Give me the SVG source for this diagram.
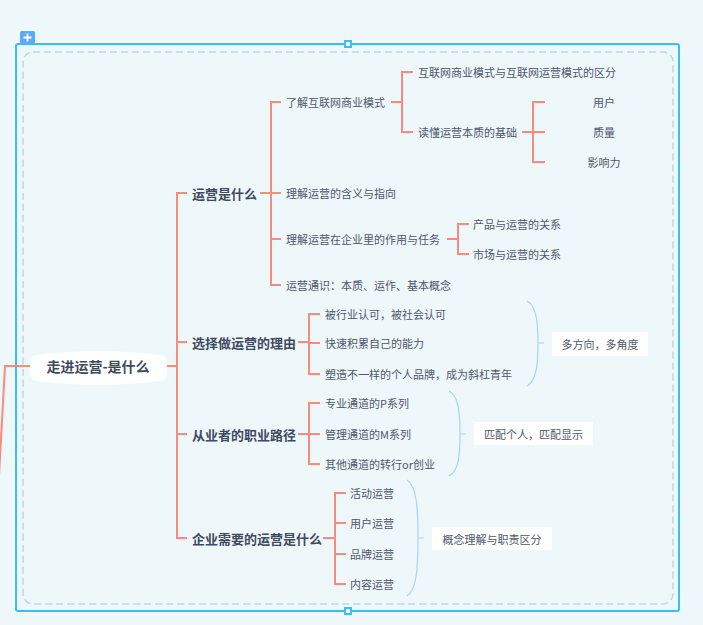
<svg xmlns="http://www.w3.org/2000/svg" width="703" height="625" viewBox="0 0 703 625">
<style>
.bg{fill:#eef7fa}
.frame{fill:none;stroke:#3ebcf7;stroke-width:2}
.dash{fill:none;stroke:#b6daf0;stroke-width:1.5;stroke-dasharray:7 4}
.handle{fill:#fff;stroke:#3ebcf7;stroke-width:2}
.conn{fill:none;stroke:#fa8a7c;stroke-width:2}
.brace{fill:none;stroke:#a9d4f0;stroke-width:1.2}
.t{font-family:"Noto Sans CJK SC","Liberation Sans",sans-serif;font-size:11px;fill:#4e586a;dominant-baseline:central}
.b{font-family:"Noto Sans CJK SC","Liberation Sans",sans-serif;font-size:13px;font-weight:bold;fill:#3e4a5d;dominant-baseline:central}
.c{font-family:"Noto Sans CJK SC","Liberation Sans",sans-serif;font-size:14px;font-weight:bold;fill:#3e4a5d;dominant-baseline:central;text-anchor:middle}
.box{fill:#fff}
.mid{text-anchor:middle}
</style>
<rect class="bg" x="0" y="0" width="703" height="625"/>
<g id="frame">
<rect class="frame" x="16" y="44" width="663" height="567" rx="2"/>
<rect class="dash" x="23" y="52" width="650" height="552" rx="10"/>
<rect x="20" y="31" width="15" height="13" rx="1.5" fill="#5ca9f6"/>
<path d="M27.5,33.5 V41.5 M23.5,37.5 H31.5" stroke="#fff" stroke-width="1.8"/>
<rect class="handle" x="345" y="41" width="6" height="6"/>
<rect class="handle" x="345" y="608" width="6" height="6"/>
</g>
<g id="connectors">
<path class="conn" d="M-1,475 L5,366 H31"/>
<path class="conn" d="M166,366 H177"/>
<path class="conn" d="M187,193 H177 V538 H187 M177,342 H187 M177,434 H187"/>
<path class="conn" d="M260,193 H271 M281,102 H271 V285 H281 M271,193 H281 M271,239 H281"/>
<path class="conn" d="M391,102 H402 M413,72 H402 V132 H413"/>
<path class="conn" d="M522,132 H533 M545,102 H533 V162 H545 M533,132 H545"/>
<path class="conn" d="M447,239 H458 M469,224 H458 V254 H469"/>
<path class="conn" d="M298,342 H309 M320,314 H309 V374 H320 M309,343 H320"/>
<path class="conn" d="M298,434 H309 M320,403 H309 V464 H320 M309,434 H320"/>
<path class="conn" d="M323,538 H335 M346,493 H335 V584 H346 M335,523 H346 M335,554 H346"/>
<path class="brace" d="M527,301 C537,306 538,325 538,343 C538,361 537,381 527,386 M538,343 H544"/>
<path class="brace" d="M449,391 C459,396 460,414 460,434 C460,454 459,471 449,476 M460,434 H466"/>
<path class="brace" d="M407,480 C417,486 418,510 418,538 C418,566 417,590 407,596 M418,538 H424"/>
</g>
<g id="root">
<path d="M36,355 Q98,347 160,355 Q167,356 167,362 V374 Q167,380 160,381 Q98,389 36,381 Q30,380 30,374 V362 Q30,356 36,355 Z" fill="#fff"/>
<text class="c" x="98" y="366">走进运营-是什么</text>
</g>
<g id="n1"><text class="b" x="192" y="193">运营是什么</text></g>
<g id="n1-1"><text class="t" x="286" y="102">了解互联网商业模式</text></g>
<g id="n1-1-1"><text class="t" x="418" y="72">互联网商业模式与互联网运营模式的区分</text></g>
<g id="n1-1-2"><text class="t" x="418" y="132">读懂运营本质的基础</text></g>
<g id="n1-1-2-1"><text class="t mid" x="604" y="102">用户</text></g>
<g id="n1-1-2-2"><text class="t mid" x="604" y="132">质量</text></g>
<g id="n1-1-2-3"><text class="t mid" x="604" y="162">影响力</text></g>
<g id="n1-2"><text class="t" x="286" y="193">理解运营的含义与指向</text></g>
<g id="n1-3"><text class="t" x="286" y="239">理解运营在企业里的作用与任务</text></g>
<g id="n1-3-1"><text class="t" x="473" y="224">产品与运营的关系</text></g>
<g id="n1-3-2"><text class="t" x="473" y="254">市场与运营的关系</text></g>
<g id="n1-4"><text class="t" x="286" y="285">运营通识：本质、运作、基本概念</text></g>
<g id="n2"><text class="b" x="192" y="342">选择做运营的理由</text></g>
<g id="n2-1"><text class="t" x="325" y="314">被行业认可，被社会认可</text></g>
<g id="n2-2"><text class="t" x="325" y="343">快速积累自己的能力</text></g>
<g id="n2-3"><text class="t" x="325" y="374">塑造不一样的个人品牌，成为斜杠青年</text></g>
<g id="s2"><rect class="box" x="552" y="332" width="96" height="24"/><text class="t mid" x="600" y="344">多方向，多角度</text></g>
<g id="n3"><text class="b" x="192" y="434">从业者的职业路径</text></g>
<g id="n3-1"><text class="t" x="325" y="403">专业通道的P系列</text></g>
<g id="n3-2"><text class="t" x="325" y="434">管理通道的M系列</text></g>
<g id="n3-3"><text class="t" x="325" y="464">其他通道的转行or创业</text></g>
<g id="s3"><rect class="box" x="474" y="422" width="119" height="23"/><text class="t mid" x="533.5" y="434">匹配个人，匹配显示</text></g>
<g id="n4"><text class="b" x="192" y="538">企业需要的运营是什么</text></g>
<g id="n4-1"><text class="t" x="350" y="493">活动运营</text></g>
<g id="n4-2"><text class="t" x="350" y="523">用户运营</text></g>
<g id="n4-3"><text class="t" x="350" y="554">品牌运营</text></g>
<g id="n4-4"><text class="t" x="350" y="584">内容运营</text></g>
<g id="s4"><rect class="box" x="432" y="527" width="120" height="23"/><text class="t mid" x="492" y="538.5">概念理解与职责区分</text></g>
</svg>
